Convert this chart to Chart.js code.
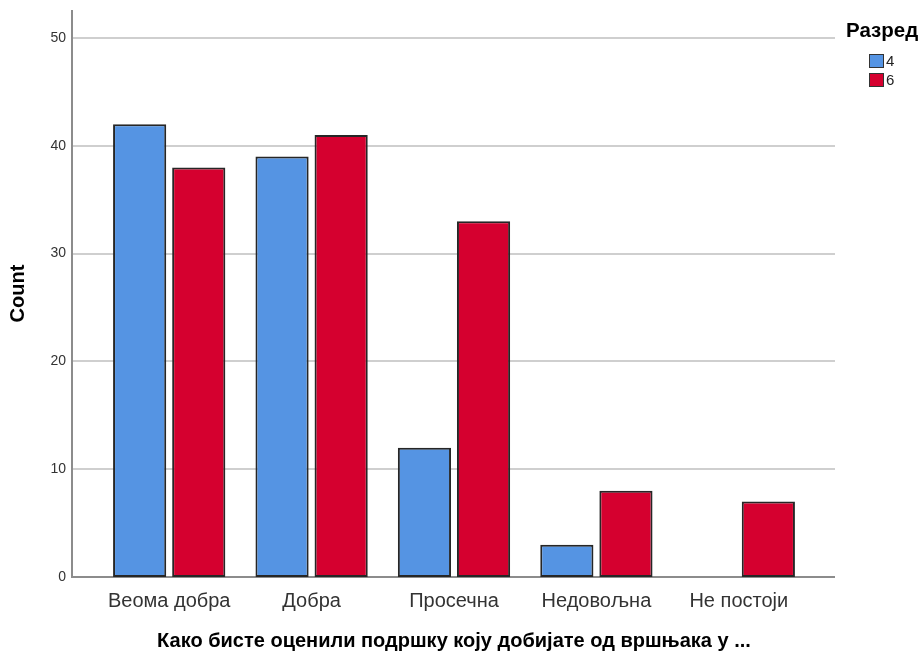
<!DOCTYPE html>
<html lang="sr">
<head>
<meta charset="UTF-8">
<title>Разред</title>
<script src="https://cdn.jsdelivr.net/npm/chart.js@4.4.0/dist/chart.umd.min.js"></script>
<style>
  html, body { margin: 0; padding: 0; background: #fff; }
  #wrap { width: 924px; height: 653px; position: relative; }
</style>
</head>
<body>
<div id="wrap"><canvas id="c"></canvas></div>
<script>
const categories = ['Веома добра', 'Добра', 'Просечна', 'Недовољна', 'Не постоји'];
const grade4 = [42, 39, 12, 3, 0];
const grade6 = [38, 41, 33, 8, 7];
const seriesNames = ['4', '6'];
const yTicks = [0, 10, 20, 30, 40, 50];

const blue = '#5594e3';
const red = '#d5002f';
const font = "'Liberation Sans', Arial, sans-serif";

// gridlines and axis lines run wider than the category band, as in the original
const framePlugin = {
  id: 'frame',
  beforeDatasetsDraw(chart) {
    const ctx = chart.ctx, y = chart.scales.y;
    const x0 = 72, x1 = 835;
    ctx.save();
    ctx.strokeStyle = '#cfcfcf';
    ctx.lineWidth = 2;
    yTicks.forEach(v => {
      if (v === 0) return;
      const py = Math.round(y.getPixelForValue(v));
      ctx.beginPath(); ctx.moveTo(x0, py); ctx.lineTo(x1, py); ctx.stroke();
    });
    ctx.strokeStyle = '#8c8c8c';
    ctx.beginPath();
    ctx.moveTo(x0, chart.chartArea.top);
    ctx.lineTo(x0, y.getPixelForValue(0));
    ctx.lineTo(x1, y.getPixelForValue(0));
    ctx.stroke();
    ctx.restore();
  },
  afterDraw(chart) {
    const ctx = chart.ctx;
    ctx.save();
    ctx.fillStyle = '#000';
    ctx.font = 'bold 20.5px ' + font;
    ctx.textBaseline = 'middle';
    ctx.fillText('Разред', 846, 31);
    const cols = [blue, red];
    seriesNames.forEach((n, i) => {
      const yy = 54 + i * 19;
      ctx.fillStyle = cols[i];
      ctx.fillRect(869, yy, 14, 13);
      ctx.strokeStyle = '#333';
      ctx.lineWidth = 1;
      ctx.strokeRect(869.5, yy + 0.5, 14, 13);
      ctx.fillStyle = '#222';
      ctx.font = '15px ' + font;
      ctx.fillText(n, 886, yy + 7.5);
    });
    ctx.restore();
  }
};

new Chart(document.getElementById('c'), {
  type: 'bar',
  data: {
    labels: categories,
    datasets: [
      { label: seriesNames[0], data: grade4, backgroundColor: blue, borderColor: '#262626', borderWidth: 2, borderSkipped: false },
      { label: seriesNames[1], data: grade6, backgroundColor: red, borderColor: '#262626', borderWidth: 2, borderSkipped: false }
    ]
  },
  options: {
    responsive: true,
    maintainAspectRatio: false,
    animation: false,
    layout: { padding: { top: 10, right: 114, bottom: 0, left: 0 } },
    plugins: { legend: { display: false }, tooltip: { enabled: false } },
    datasets: { bar: { categoryPercentage: 0.83, barPercentage: 0.9 } },
    scales: {
      x: {
        grid: { display: false },
        border: { display: false },
        ticks: { color: '#333', font: { family: font, size: 20 }, padding: 4, maxRotation: 0 },
        title: {
          display: true,
          text: 'Како бисте оценили подршку коју добијате од вршњака у ...',
          color: '#000',
          font: { family: font, size: 20, weight: 'bold' },
          padding: { top: 12, bottom: 0 }
        }
      },
      y: {
        min: 0,
        max: 52.6,
        grid: { display: false, drawTicks: false },
        border: { display: false },
        afterBuildTicks: s => { s.ticks = yTicks.map(v => ({ value: v })); },
        afterFit: s => { s.width = 98; s.paddingTop = 0; s.paddingBottom = 0; },
        ticks: { color: '#333', font: { family: font, size: 14 }, padding: 32 },
        title: {
          display: true,
          text: 'Count',
          color: '#000',
          font: { family: font, size: 20, weight: 'bold' },
          padding: { top: 6, bottom: 0 }
        }
      }
    }
  },
  plugins: [framePlugin]
});
</script>
</body>
</html>
